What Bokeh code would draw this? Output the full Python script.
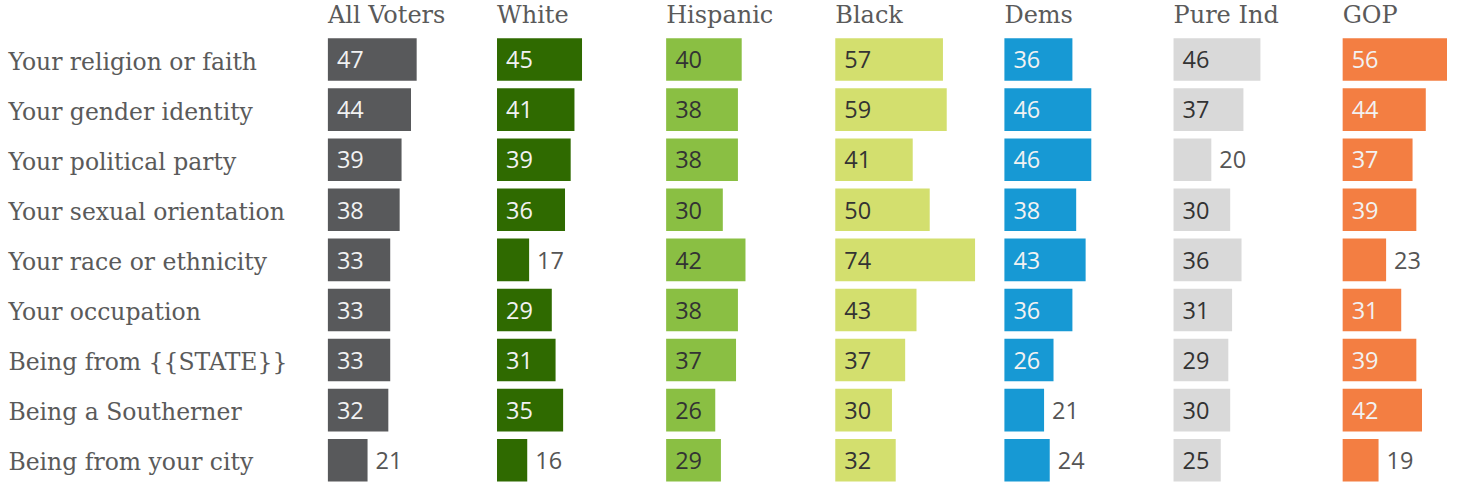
from bokeh.plotting import figure
from bokeh.models import Range1d, ColumnDataSource
from bokeh.core.properties import value
from bokeh.embed import file_html
from bokeh.resources import INLINE

categories = [
    "Your religion or faith",
    "Your gender identity",
    "Your political party",
    "Your sexual orientation",
    "Your race or ethnicity",
    "Your occupation",
    "Being from {{STATE}}",
    "Being a Southerner",
    "Being from your city",
]
groups = ["All Voters", "White", "Hispanic", "Black", "Dems", "Pure Ind", "GOP"]

all_voters = [47, 44, 39, 38, 33, 33, 33, 32, 21]
white = [45, 41, 39, 36, 17, 29, 31, 35, 16]
hispanic = [40, 38, 38, 30, 42, 38, 37, 26, 29]
black = [57, 59, 41, 50, 74, 43, 37, 30, 32]
dems = [36, 46, 46, 38, 43, 36, 26, 21, 24]
pure_ind = [46, 37, 20, 30, 36, 31, 29, 30, 25]
gop = [56, 44, 37, 39, 23, 31, 39, 42, 19]

series = [all_voters, white, hispanic, black, dems, pure_ind, gop]
bar_colors = ["#58595b", "#2f6a00", "#8abf43", "#d3df6e", "#1799d4", "#d9d9d9", "#f37e42"]
inside_text = ["#f2f2f2", "#f2f2f2", "#333333", "#333333", "#f2f2f2", "#333333", "#f2f2f2"]
outside_text = "#555555"
label_color = "#5a5a5a"

# layout (styling), expressed in reference-image pixels and scaled to fit
REF_W, REF_H = 1463, 498
W, H = 1447, 482
PX = 1.91            # reference pixels per percentage point
ORIGIN = 331         # reference x of first column's bars
PITCH = 171 / PX     # column pitch in data units
ROW = 51.75          # reference row pitch
ROW0 = 61            # reference y of first row centre
TEXT_SHIFT = -8.5    # pixel correction for svg text baseline

x_start = (0 - ORIGIN) / PX
x_end = (REF_W - ORIGIN) / PX
y_top = (0 - ROW0) / ROW
y_bottom = (REF_H - ROW0) / ROW

p = figure(width=W, height=H,
           x_range=Range1d(x_start, x_end),
           y_range=Range1d(y_bottom, y_top),
           output_backend="svg", toolbar_location=None,
           x_axis_location=None, y_axis_location=None,
           min_border=0)
p.grid.visible = False
p.outline_line_color = None
p.background_fill_color = "white"
p.border_fill_color = "white"

rows = list(range(len(categories)))
label_x = (8 - ORIGIN) / PX

# row labels
p.text(x=[label_x] * len(rows), y=[r + 11 / ROW for r in rows], text=categories,
       text_font=value("DejaVu Serif"), text_font_size="23.5px",
       text_color=label_color, text_baseline="alphabetic", y_offset=TEXT_SHIFT)

header_y = (24 - ROW0) / ROW
num_dy = 9 / ROW

for i, (name, vals) in enumerate(zip(groups, series)):
    left = [i * PITCH] * len(vals)
    right = [i * PITCH + v for v in vals]
    src = ColumnDataSource(dict(y=rows, left=left, right=right, v=vals))
    p.hbar(y="y", left="left", right="right", height=44 / ROW, source=src,
           fill_color=bar_colors[i], line_color=None)
    # header
    p.text(x=[i * PITCH], y=[header_y], text=[name],
           text_font=value("DejaVu Serif"), text_font_size="24px",
           text_color=label_color, text_baseline="alphabetic", y_offset=TEXT_SHIFT)
    ins = [k for k, v in enumerate(vals) if v >= 25]
    outs = [k for k, v in enumerate(vals) if v < 25]
    if ins:
        p.text(x=[left[k] for k in ins], y=[rows[k] + num_dy for k in ins],
               text=[str(vals[k]) for k in ins], x_offset=9, y_offset=TEXT_SHIFT,
               text_font=value("Open Sans"), text_font_size="23.5px",
               text_color=inside_text[i], text_baseline="alphabetic")
    if outs:
        p.text(x=[right[k] for k in outs], y=[rows[k] + num_dy for k in outs],
               text=[str(vals[k]) for k in outs], x_offset=8, y_offset=TEXT_SHIFT,
               text_font=value("Open Sans"), text_font_size="23.5px",
               text_color=outside_text, text_baseline="alphabetic")

open("out.html", "w").write(file_html(p, INLINE))
